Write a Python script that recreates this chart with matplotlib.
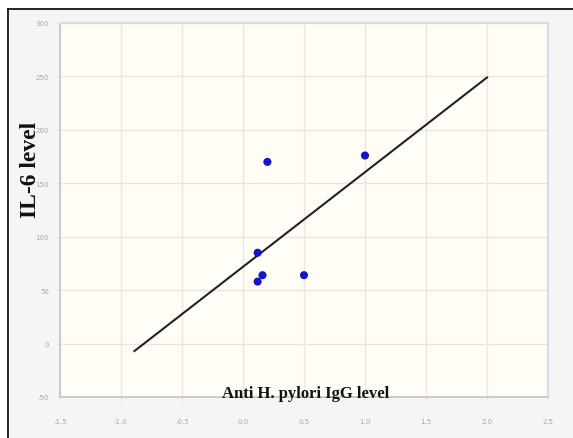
"""Scatter of IL-6 level against anti H. pylori IgG level with fit line."""

import matplotlib
matplotlib.use('Agg')
import matplotlib.pyplot as plt
from matplotlib.patches import Rectangle
from matplotlib.lines import Line2D

# =============================================================================
# Data
# =============================================================================
IGG = [0.2, 1.0, 0.12, 0.16, 0.12, 0.5]
IL6 = [170, 176, 85, 64, 58, 64]

FIT_X = [-0.89, 2.0]
FIT_Y = [-7, 249]

X_TICKS = [-1.5, -1.0, -0.5, 0.0, 0.5, 1.0, 1.5, 2.0, 2.5]
Y_TICKS = [-50, 0, 50, 100, 150, 200, 250, 300]

GRID = '#ebe7df'

# =============================================================================
# Plot
# =============================================================================
fig = plt.figure(figsize=(5.73, 4.39), dpi=100)
fig.patch.set_facecolor('white')

# grey panel with black frame on left / top
W, H = 573, 439
fig.patches.append(Rectangle((8 / W, 0), 1 - 8 / W, 1 - 10 / H,
                             transform=fig.transFigure, facecolor='#f5f5f5',
                             edgecolor='none', zorder=-5))
fig.lines.append(Line2D([8 / W, 8 / W], [0, 1 - 10 / H], transform=fig.transFigure,
                        color='black', linewidth=1.2))
fig.lines.append(Line2D([8 / W, 1], [1 - 10 / H, 1 - 10 / H], transform=fig.transFigure,
                        color='black', linewidth=1.2))

ax = fig.add_axes([60 / W, 1 - 398 / H, 488 / W, 374 / H])
ax.set_zorder(1)
ax.set_facecolor('#fffdf6')
ax.set_xlim(-1.5, 2.5)
ax.set_ylim(-50, 300)
ax.set_xticks(X_TICKS)
ax.set_yticks(Y_TICKS)
ax.set_xticklabels(['%.1f' % t for t in X_TICKS])
ax.set_yticklabels([str(t) for t in Y_TICKS])
ax.grid(True, color=GRID, linewidth=1.0)
ax.set_axisbelow(True)
ax.tick_params(axis='both', length=3, color=GRID, labelsize=5, labelcolor='#a8a8a8')
ax.tick_params(axis='x', pad=12)
ax.tick_params(axis='y', pad=5)
for side in ['left', 'bottom']:
    ax.spines[side].set_color('#c4c4c4')
    ax.spines[side].set_linewidth(1.2)
for side in ['top', 'right']:
    ax.spines[side].set_color('#dcdcdc')
    ax.spines[side].set_linewidth(1.5)

# Fit line and points
ax.plot(FIT_X, FIT_Y, linestyle='-', linewidth=1.5, color='#222222', zorder=3)
ax.scatter(IGG, IL6, s=34, color='#1414c8', edgecolors='none', zorder=4)

# Labels
ax.text(0.503, 0.0, 'Anti H. pylori IgG level', transform=ax.transAxes,
        ha='center', va='baseline', family='Liberation Serif',
        fontweight='bold', fontsize=12, color='#111111')
fig.text(30 / W, 1 - 170 / H, 'IL-6 level', rotation=90, ha='center', va='center',
         family='Liberation Serif', fontweight='bold', fontsize=17, color='#111111',
         zorder=5)

fig.savefig('out.png', dpi=100)
